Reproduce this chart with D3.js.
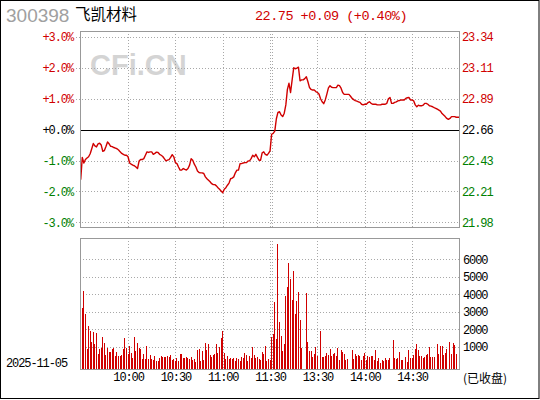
<!DOCTYPE html>
<html><head><meta charset="utf-8">
<script src="https://cdn.jsdelivr.net/npm/d3@7"></script>
<style>
html,body{margin:0;padding:0;background:#fff;}
svg{display:block;}
.mono{font-family:"Liberation Mono","DejaVu Sans Mono",monospace;}
</style></head>
<body>
<svg id="chart" width="540" height="400"></svg>
<script>
// ---- data ----
const stockCode = "300398";
const stockName = "飞凯材料";
const quoteText = "22.75 +0.09 (+0.40%)";
const dateText = "2025-11-05";
const statusText = "(已收盘)";
const watermark = "CFi.CN";

const pctTicks = [3, 2, 1, 0, -1, -2, -3];
const pctLabels = ["+3.0%", "+2.0%", "+1.0%", "+0.0%", "-1.0%", "-2.0%", "-3.0%"];
const priceLabels = ["23.34", "23.11", "22.89", "22.66", "22.43", "22.21", "21.98"];
const volTicks = [1000, 2000, 3000, 4000, 5000, 6000];
const timeLabels = ["10:00", "10:30", "11:00", "11:30", "13:30", "14:00", "14:30"];
const timeIndex = [30, 60, 90, 120, 150, 180, 210];
const gridIndex = [30, 60, 90, 120, 121, 150, 180, 210];

// percent change vs previous close, one value per minute (index 0 = 9:30, 240 = 15:00)
const pctChange = [
-1.62,-0.90,-1.08,-0.97,-0.92,-0.88,-0.78,-0.62,-0.45,-0.53,
-0.56,-0.46,-0.44,-0.50,-0.70,-0.68,-0.55,-0.40,-0.46,-0.54,
-0.55,-0.58,-0.60,-0.62,-0.66,-0.72,-0.77,-0.80,-0.83,-0.83,
-0.88,-1.08,-1.12,-1.15,-1.17,-1.21,-1.26,-1.02,-0.97,-0.97,
-0.94,-0.83,-0.72,-0.74,-0.72,-0.72,-0.80,-0.77,-0.73,-0.74,
-0.80,-0.83,-0.87,-0.94,-1.01,-0.99,-0.97,-0.90,-0.81,-0.88,
-1.07,-1.10,-1.21,-1.31,-1.31,-1.26,-1.29,-1.31,-1.26,-1.15,
-0.94,-0.99,-1.12,-1.21,-1.34,-1.39,-1.40,-1.40,-1.42,-1.53,
-1.59,-1.64,-1.69,-1.75,-1.78,-1.78,-1.82,-1.88,-1.93,-1.99,
-2.04,-1.93,-1.88,-1.80,-1.73,-1.59,-1.57,-1.53,-1.40,-1.31,
-1.31,-1.10,-1.10,-1.08,-1.07,-1.07,-1.02,-1.01,-0.94,-0.83,
-0.88,-0.80,-0.90,-0.99,-0.99,-0.75,-0.72,-0.80,-0.83,-0.77,
-0.69,-0.15,-0.12,-0.05,0.35,0.56,0.58,0.47,0.42,0.53,
0.80,1.30,1.50,1.20,1.61,2.00,1.97,1.99,2.02,1.58,
1.61,1.61,1.65,1.71,1.55,1.36,1.30,1.28,1.28,1.23,
1.20,1.15,1.00,0.90,0.84,0.96,1.15,1.35,1.42,1.37,
1.36,1.36,1.36,1.44,1.42,1.34,1.20,1.14,1.14,1.14,
1.14,1.08,1.01,0.97,0.94,0.92,0.90,0.88,0.82,0.80,
0.82,0.82,0.87,0.90,0.85,0.82,0.82,0.82,0.80,0.80,
0.80,0.82,0.82,0.82,0.85,1.00,1.04,0.85,0.85,0.88,
0.90,0.93,0.94,0.96,0.96,0.96,1.01,1.03,1.04,0.96,
0.96,0.93,0.80,0.74,0.79,0.77,0.77,0.79,0.85,0.85,
0.82,0.77,0.76,0.74,0.71,0.69,0.66,0.63,0.60,0.52,
0.47,0.42,0.36,0.33,0.36,0.42,0.42,0.42,0.40,0.40,
0.40
];

// volume per minute (minute 1 .. 240); null = no bar shown
const volume = [
3210,4180,2870,870,2180,1900,1270,1840,1150,1780,
580,870,940,1550,1210,530,930,700,700,870,
940,470,700,470,470,530,870,1500,930,580,
1040,640,360,1550,750,1210,930,870,300,580,
300,1040,300,530,300,240,470,180,180,360,
470,410,410,410,470,410,530,240,300,180,
360,180,580,580,360,360,410,360,300,410,
240,300,130,810,870,180,750,240,1210,810,
1150,530,410,530,580,1150,640,980,1500,1900,
640,300,470,300,360,300,360,180,360,300,
180,410,360,640,530,180,470,360,980,530,
360,410,300,240,700,580,1040,180,300,240,
1550,1730,3550,1440,6870,2410,1610,750,1150,3900,
4410,5780,4870,3670,5330,2870,3610,4130,2530,930,
null,null,4070,1270,750,750,410,580,980,470,
null,1900,410,410,470,640,530,870,470,580,
640,470,930,240,810,700,580,240,300,null,
null,810,300,580,470,530,470,240,470,640,
240,470,410,470,470,240,810,180,360,70,
240,180,360,240,240,360,null,1380,360,300,
360,700,240,240,null,410,130,810,360,360,
530,870,1150,810,470,470,360,410,530,580,
980,410,410,410,null,1150,580,1040,1040,530,
640,870,null,1270,580,1210,1100,580,null,2410
];

// ---- layout ----
const svg = d3.select("#chart");
const L = 80, R = 460;
const pTop = 31, pBot = 227;
const vTop = 238, vBot = 369;
const red = "#d00000", green = "#008000", grid = "#a8a8a8", frame = "#999999";
const FS = 12, LS = "-1.1px";

const x = d3.scaleLinear().domain([0, 240]).range([80.7, 459.4]);
const yP = d3.scaleLinear().domain([-3, 3]).range([222.3, 36.9]);
const yV = d3.scaleLinear().domain([-276, 7218]).range([vBot, vTop]);

// outer border
svg.append("rect").attr("x", 0.5).attr("y", 0.5).attr("width", 538.5).attr("height", 398)
  .attr("fill", "none").attr("stroke", "#000");

// header
svg.append("text").attr("x", 6).attr("y", 22).text(stockCode)
  .attr("font-family", "Liberation Sans, Arial, sans-serif").attr("font-size", 19)
  .attr("fill", "#a0a0a0");
svg.append("text").attr("x", 75).attr("y", 20).text(stockName)
  .attr("font-family", "Noto Sans CJK SC, sans-serif").attr("font-size", 15.5).attr("fill", "#000");
svg.append("text").attr("class", "mono").attr("x", 255).attr("y", 20).text(quoteText)
  .attr("font-size", 13.5).attr("letter-spacing", "-0.5px").attr("fill", red);

// watermark
svg.append("text").attr("x", 90).attr("y", 75).text(watermark)
  .attr("font-family", "Liberation Sans, Arial, sans-serif").attr("font-weight", "bold")
  .attr("font-size", 29).attr("fill", "#d4d4d4");

// price panel horizontal grid
const pg = svg.append("g").attr("shape-rendering", "crispEdges");
pg.selectAll("line.h").data(pctTicks.filter(d => d !== 0)).join("line")
  .attr("x1", 76).attr("x2", R).attr("y1", d => Math.round(yP(d)) + 0.5).attr("y2", d => Math.round(yP(d)) + 0.5)
  .attr("stroke", grid).attr("stroke-dasharray", "1,2");
// vertical grid (both panels)
pg.selectAll("line.vp").data(gridIndex).join("line")
  .attr("x1", d => Math.round(x(d)) + 0.5).attr("x2", d => Math.round(x(d)) + 0.5)
  .attr("y1", pTop).attr("y2", pBot).attr("stroke", grid).attr("stroke-dasharray", "1,2");
const vg = svg.append("g").attr("shape-rendering", "crispEdges");
vg.selectAll("line.vv").data(gridIndex).join("line")
  .attr("x1", d => Math.round(x(d)) + 0.5).attr("x2", d => Math.round(x(d)) + 0.5)
  .attr("y1", vTop).attr("y2", vBot).attr("stroke", grid).attr("stroke-dasharray", "1,2");
vg.selectAll("line.hv").data(volTicks).join("line")
  .attr("x1", L).attr("x2", R).attr("y1", d => Math.round(yV(d)) + 0.5).attr("y2", d => Math.round(yV(d)) + 0.5)
  .attr("stroke", grid).attr("stroke-dasharray", "1,2");

// zero line
svg.append("line").attr("x1", L).attr("x2", R).attr("y1", Math.round(yP(0)) + 0.5).attr("y2", Math.round(yP(0)) + 0.5)
  .attr("stroke", "#000").attr("stroke-width", 1.2).attr("shape-rendering", "crispEdges");

// volume bars
svg.append("g").attr("shape-rendering", "crispEdges")
  .selectAll("rect").data(volume.map((v, i) => ({ i: i + 1, v })).filter(d => d.v !== null)).join("rect")
  .attr("x", d => Math.floor(x(d.i))).attr("width", 1)
  .attr("y", d => Math.round(yV(d.v))).attr("height", d => vBot - Math.round(yV(d.v)))
  .attr("fill", red);

// price line
const line = d3.line().x((d, i) => x(i)).y(d => yP(d));
svg.append("path").datum(pctChange).attr("d", line)
  .attr("fill", "none").attr("stroke", red).attr("stroke-width", 1.4).attr("stroke-linejoin", "round");

// frames
svg.append("rect").attr("x", L + 0.5).attr("y", pTop + 0.5).attr("width", R - L - 1).attr("height", pBot - pTop)
  .attr("fill", "none").attr("stroke", frame).attr("stroke-width", 1.2).attr("shape-rendering", "crispEdges");
svg.append("rect").attr("x", L + 0.5).attr("y", vTop + 0.5).attr("width", R - L - 1).attr("height", vBot - vTop)
  .attr("fill", "none").attr("stroke", frame).attr("stroke-width", 1.2).attr("shape-rendering", "crispEdges");

const colorOf = d => d > 0 ? red : (d < 0 ? green : "#000");
function styleText(sel, fill) {
  sel.selectAll("text").attr("class", "mono").attr("font-family", null)
    .attr("font-size", FS).attr("letter-spacing", LS).attr("fill", fill);
}

// left percent axis
const axL = svg.append("g").attr("transform", `translate(73,0)`)
  .call(d3.axisLeft(yP).tickValues(pctTicks).tickSize(0).tickPadding(0)
    .tickFormat((d, i) => pctLabels[i]));
axL.select(".domain").remove();
styleText(axL, d => colorOf(d));

// right price axis
const axR = svg.append("g").attr("transform", `translate(462,0)`)
  .call(d3.axisRight(yP).tickValues(pctTicks).tickSize(0).tickPadding(0)
    .tickFormat((d, i) => priceLabels[i]));
axR.select(".domain").remove();
styleText(axR, d => colorOf(d));

// volume axis
const axV = svg.append("g").attr("transform", `translate(463,0)`)
  .call(d3.axisRight(yV).tickValues(volTicks).tickSize(0).tickPadding(0).tickFormat(d3.format("d")));
axV.select(".domain").remove();
styleText(axV, "#000");

// time axis
const tScale = d3.scaleOrdinal().domain(timeLabels).range(timeIndex.map(i => x(i)));
const axT = svg.append("g").attr("transform", `translate(0,${vBot + 3})`)
  .call(d3.axisBottom(tScale).tickSize(0).tickPadding(0));
axT.select(".domain").remove();
styleText(axT, "#000");
axT.selectAll("text").attr("dy", "0.75em");

// date & status
svg.append("text").attr("class", "mono").attr("x", 6).attr("y", 367).text(dateText)
  .attr("font-size", FS).attr("letter-spacing", LS).attr("fill", "#000");
svg.append("text").attr("x", 463).attr("y", 383).text(statusText)
  .attr("font-family", "Noto Sans CJK SC, sans-serif").attr("font-size", 12).attr("fill", "#000");
</script>
</body></html>
